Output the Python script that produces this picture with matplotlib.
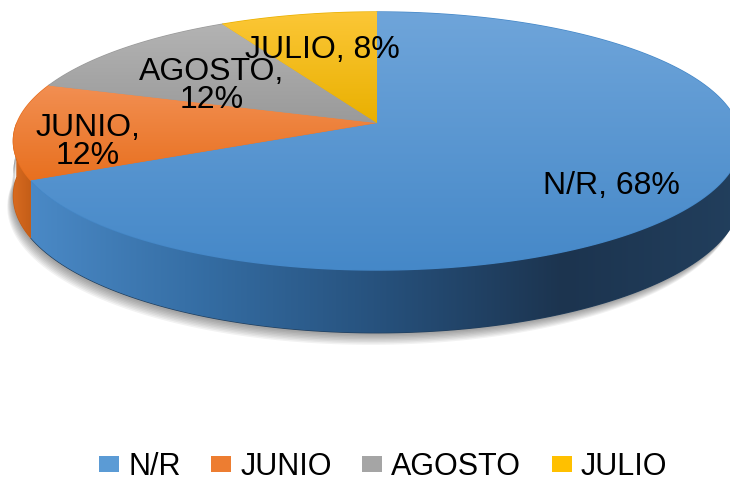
import numpy as np
import matplotlib
matplotlib.use("Agg")
import matplotlib.pyplot as plt
from matplotlib.path import Path
from matplotlib.patches import PathPatch, Patch
from matplotlib.colors import LinearSegmentedColormap

plt.rcParams['font.family'] = ['Liberation Sans', 'DejaVu Sans']

# datos
labels = ['N/R', 'JUNIO', 'AGOSTO', 'JULIO']
values = [68, 12, 12, 8]
slice_text = ['N/R, 68%', 'JUNIO,\n12%', 'AGOSTO,\n12%', 'JULIO, 8%']
top_light = ['#6fa5da', '#f28f52', '#b3b3b3', '#fcc737']
top_dark = ['#4588c8', '#e8701f', '#9a9a9a', '#e9b000']
legend_cols = ['#5b9bd5', '#ed7d31', '#a5a5a5', '#ffc000']
side_cols = [['#4a89c6', '#346ca2', '#26507b', '#1c344f', '#223f5d'],
             ['#d86a20', '#c45e18'], ['#8c8c8c', '#7a7a7a'], ['#d9a400', '#c89600']]

# geometria en pixeles (pseudo perspectiva)
cx, cy = 377, 123
A, B, k = 360, 126.5, 0.1395
H = 54


def pt(t, drop=0.0):
    u, v = np.sin(t), np.cos(t)
    w = 1 + k * v
    return cx + A * u / w, cy - B * v / w + drop / w


fig = plt.figure(figsize=(7.3, 4.83), dpi=100)
ax = fig.add_axes([0, 0, 1, 1])
ax.set_xlim(0, 730)
ax.set_ylim(483, 0)
ax.axis('off')

frac = np.cumsum([0] + values) / sum(values)
starts = frac[:-1] * 2 * np.pi
ends = frac[1:] * 2 * np.pi


def fill_grad(verts, cols, horizontal, zorder):
    verts = np.vstack([verts, verts[:1]])  # el ultimo vertice se usa para cerrar
    path = Path(verts, closed=True)
    # base solida para evitar huecos blancos entre porciones
    ax.add_patch(PathPatch(path, facecolor=cols[-1], edgecolor=cols[-1], lw=1.0,
                           zorder=zorder - 0.5))
    patch = PathPatch(path, facecolor='none', edgecolor='none')
    ax.add_patch(patch)
    cmap = LinearSegmentedColormap.from_list('g', cols)
    xs, ys = verts[:, 0], verts[:, 1]
    g = np.linspace(0, 1, 256)
    img = g[None, :] if horizontal else g[:, None]
    im = ax.imshow(img, cmap=cmap, extent=[xs.min(), xs.max(), ys.max(), ys.min()],
                   aspect='auto', zorder=zorder, interpolation='bilinear')
    im.set_clip_path(patch)


# sombra
ts = np.linspace(np.pi / 2, 3 * np.pi / 2, 200)
for i in range(8):
    off = 2 + i * 1.2
    xb, yb = pt(ts, H + off)
    xt, yt = pt(ts[::-1], H - 25)
    v = np.column_stack([np.r_[xb - off * 0.6, xt], np.r_[yb, yt]])
    ax.add_patch(PathPatch(Path(np.vstack([v, v[:1]]), closed=True), facecolor='#000000',
                           alpha=0.05, edgecolor='none', zorder=1))

# paredes laterales
for i in range(len(values)):
    a0, a1 = max(starts[i], np.pi / 2), min(ends[i], 3 * np.pi / 2)
    if a1 <= a0:
        continue
    t = np.linspace(a0, a1, 120)
    xt, yt = pt(t)
    xb, yb = pt(t[::-1], H)
    v = np.column_stack([np.r_[xt, xb], np.r_[yt, yb]])
    fill_grad(v, side_cols[i], True, 3)

# caras superiores
for i in range(len(values)):
    t = np.linspace(starts[i], ends[i], 200)
    xt, yt = pt(t)
    v = np.column_stack([np.r_[cx, xt], np.r_[cy, yt]])
    fill_grad(v, [top_light[i], top_dark[i]], False, 5)

# etiquetas
label_pos = [(611, 186), (88, 142), (212, 86), (322, 50)]
for txt, (lx, ly) in zip(slice_text, label_pos):
    ax.text(lx, ly, txt, ha='center', va='center', fontsize=23, color='black',
            zorder=7, linespacing=0.95)

handles = [Patch(facecolor=c, edgecolor='none') for c in legend_cols]
leg = ax.legend(handles, labels, loc='center', bbox_to_anchor=(0.525, 1 - 467 / 483),
                ncol=4, frameon=False, fontsize=22, handlelength=0.65, handleheight=0.45,
                handletextpad=0.3, columnspacing=1.0)

fig.savefig('out.png', dpi=100)
